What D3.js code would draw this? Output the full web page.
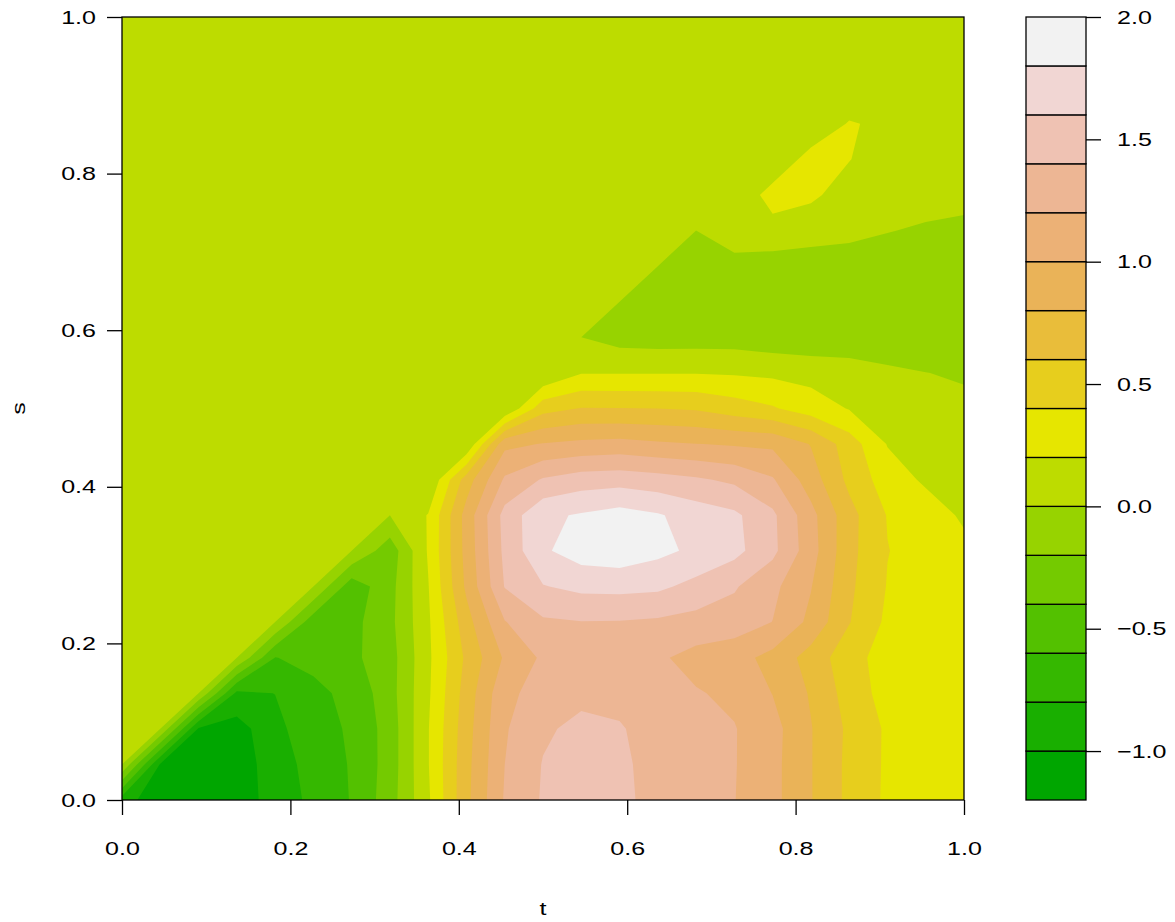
<!DOCTYPE html>
<html>
<head>
<meta charset="utf-8">
<script src="https://cdn.jsdelivr.net/npm/d3@7"></script>
<style>
  body { margin: 0; background: #ffffff; }
  text { font-family: "Liberation Sans", Arial, Helvetica, sans-serif; }
</style>
</head>
<body>
<svg id="chart" width="1175" height="922"></svg>
<script>
// Grid positions along t (columns) and s (rows)
const tValues = [0.0000, 0.0455, 0.0909, 0.1364, 0.1818, 0.2273, 0.2727, 0.3182, 0.3636, 0.4091, 0.4545, 0.5000,
                 0.5455, 0.5909, 0.6364, 0.6818, 0.7273, 0.7727, 0.8182, 0.8636, 0.9091, 0.9545, 1.0000];
const sValues = [0.0000, 0.0455, 0.0909, 0.1364, 0.1818, 0.2273, 0.2727, 0.3182, 0.3636, 0.4091, 0.4545, 0.5000,
                 0.5455, 0.5909, 0.6364, 0.6818, 0.7273, 0.7727, 0.8182, 0.8636, 0.9091, 0.9545, 1.0000];

// Surface values z(t, s): one row per s value, one entry per t value (zero where s > t)
const zValues = [
  [-0.90, -1.15, -1.18, -1.04, -0.97, -0.73, -0.59, -0.29, 0.17, 0.75, 1.22, 1.42, 1.52, 1.50, 1.26, 1.23, 1.205, 1.06, 0.81, 0.55, 0.365, 0.32, 0.30],
  [0, -1.02, -1.18, -1.06, -0.945, -0.69, -0.588, -0.31, 0.19, 0.74, 1.20, 1.41, 1.50, 1.47, 1.27, 1.23, 1.21, 1.06, 0.81, 0.55, 0.37, 0.32, 0.30],
  [0, 0, -1.02, -1.08, -0.865, -0.655, -0.582, -0.31, 0.19, 0.72, 1.18, 1.37, 1.45, 1.42, 1.30, 1.25, 1.21, 1.07, 0.81, 0.56, 0.37, 0.32, 0.30],
  [0, 0, 0, -0.85, -0.797, -0.649, -0.547, -0.28, 0.17, 0.69, 1.15, 1.28, 1.35, 1.33, 1.27, 1.215, 1.16, 0.995, 0.78, 0.515, 0.32, 0.30, 0.30],
  [0, 0, 0, 0, -0.605, -0.547, -0.442, -0.286, 0.16, 0.64, 1.027, 1.233, 1.30, 1.29, 1.23, 1.133, 1.07, 0.94, 0.718, 0.48, 0.31, 0.30, 0.29],
  [0, 0, 0, 0, 0, -0.52, -0.46, -0.255, 0.17, 0.72, 1.19, 1.37, 1.395, 1.39, 1.37, 1.33, 1.31, 1.197, 0.95, 0.61, 0.36, 0.31, 0.28],
  [0, 0, 0, 0, 0, 0, -0.52, -0.27, 0.19, 0.84, 1.41, 1.59, 1.65, 1.66, 1.64, 1.54, 1.42, 1.25, 1.01, 0.64, 0.39, 0.32, 0.27],
  [0, 0, 0, 0, 0, 0, 0, -0.32, 0.22, 0.87, 1.45, 1.77, 1.90, 1.93, 1.85, 1.76, 1.66, 1.45, 1.085, 0.66, 0.405, 0.33, 0.25],
  [0, 0, 0, 0, 0, 0, 0, 0, 0.21, 0.88, 1.47, 1.76, 1.82, 1.88, 1.82, 1.71, 1.64, 1.44, 1.065, 0.67, 0.39, 0.30, 0.17],
  [0, 0, 0, 0, 0, 0, 0, 0, 0, 0.70, 1.23, 1.42, 1.50, 1.52, 1.48, 1.43, 1.36, 1.22, 0.90, 0.55, 0.30, 0.17, 0.12],
  [0, 0, 0, 0, 0, 0, 0, 0, 0, 0, 0.95, 1.01, 1.05, 1.07, 1.03, 1.005, 0.98, 0.96, 0.79, 0.50, 0.19, 0.10, 0.05],
  [0, 0, 0, 0, 0, 0, 0, 0, 0, 0, 0, 0.53, 0.61, 0.605, 0.60, 0.58, 0.50, 0.42, 0.30, 0.19, 0.10, 0.05, 0.03],
  [0, 0, 0, 0, 0, 0, 0, 0, 0, 0, 0, 0, 0.19, 0.19, 0.19, 0.19, 0.18, 0.16, 0.13, 0.08, 0.04, 0.002, -0.015],
  [0, 0, 0, 0, 0, 0, 0, 0, 0, 0, 0, 0, 0, -0.08, -0.094, -0.09, -0.09, -0.126, -0.144, -0.11, -0.14, -0.12, -0.10],
  [0, 0, 0, 0, 0, 0, 0, 0, 0, 0, 0, 0, 0, 0, -0.10, -0.12, -0.13, -0.14, -0.15, -0.15, -0.15, -0.15, -0.14],
  [0, 0, 0, 0, 0, 0, 0, 0, 0, 0, 0, 0, 0, 0, 0, -0.08, -0.06, -0.08, -0.117, -0.12, -0.13, -0.13, -0.12],
  [0, 0, 0, 0, 0, 0, 0, 0, 0, 0, 0, 0, 0, 0, 0, 0, 0.10, 0.11, 0.10, 0.065, 0.01, -0.03, -0.05],
  [0, 0, 0, 0, 0, 0, 0, 0, 0, 0, 0, 0, 0, 0, 0, 0, 0, 0.30, 0.23, 0.127, 0.10, 0.095, 0.064],
  [0, 0, 0, 0, 0, 0, 0, 0, 0, 0, 0, 0, 0, 0, 0, 0, 0, 0, 0.30, 0.205, 0.12, 0.10, 0.08],
  [0, 0, 0, 0, 0, 0, 0, 0, 0, 0, 0, 0, 0, 0, 0, 0, 0, 0, 0, 0.22, 0.15, 0.10, 0.08],
  [0, 0, 0, 0, 0, 0, 0, 0, 0, 0, 0, 0, 0, 0, 0, 0, 0, 0, 0, 0, 0.08, 0.08, 0.08],
  [0, 0, 0, 0, 0, 0, 0, 0, 0, 0, 0, 0, 0, 0, 0, 0, 0, 0, 0, 0, 0, 0.08, 0.08],
  [0, 0, 0, 0, 0, 0, 0, 0, 0, 0, 0, 0, 0, 0, 0, 0, 0, 0, 0, 0, 0, 0, 0.06]
];

// Contour levels and axis ticks
const levels = [-1.2, -1.0, -0.8, -0.6, -0.4, -0.2, 0.0, 0.2, 0.4, 0.6, 0.8, 1.0, 1.2, 1.4, 1.6, 1.8, 2.0];
const tTicks = [0.0, 0.2, 0.4, 0.6, 0.8, 1.0];
const sTicks = [0.0, 0.2, 0.4, 0.6, 0.8, 1.0];
const legendTicks = [-1.0, -0.5, 0.0, 0.5, 1.0, 1.5, 2.0];

// Terrain palette (hue/saturation/value ramps from green through yellow to near white)
function hsv(h, s, v) {
  const h6 = h * 6;
  const i = Math.floor(h6 + 1e-9) % 6;
  const f = h6 - Math.floor(h6 + 1e-9);
  const p = v * (1 - s), q = v * (1 - f * s), t = v * (1 - (1 - f) * s);
  const rgb = [[v, t, p], [q, v, p], [p, v, t], [p, q, v], [t, p, v], [v, p, q]][i];
  return d3.rgb(Math.round(rgb[0] * 255), Math.round(rgb[1] * 255), Math.round(rgb[2] * 255)).formatHex();
}
function terrainColors(n) {
  const k = Math.floor(n / 2);
  const H = [4 / 12, 2 / 12, 0], S = [1, 1, 0], V = [0.65, 0.9, 0.95];
  const seq = (a, b, len, i) => len === 1 ? a : a + (b - a) * i / (len - 1);
  const out = [];
  for (let i = 0; i < k; i++) out.push(hsv(seq(H[0], H[1], k, i), seq(S[0], S[1], k, i), seq(V[0], V[1], k, i)));
  const len = n - k + 1;
  for (let i = 1; i < len; i++) out.push(hsv(seq(H[1], H[2], len, i), seq(S[1], S[2], len, i), seq(V[1], V[2], len, i)));
  return out;
}
const bandColors = terrainColors(levels.length - 1);

const svg = d3.select("#chart");
const plot = { left: 122, right: 964, top: 17, bottom: 800 };
const FONT = '"Liberation Sans", Arial, Helvetica, sans-serif';
const FONT_SIZE = "19px";
const WIDEN = 1.32;

const x = d3.scaleLinear().domain([0, 1]).range([plot.left, plot.right]);
const y = d3.scaleLinear().domain([0, 1]).range([plot.bottom, plot.top]);

// Contour grid coordinates: value (i, j) sits at (i + 0.5, j + 0.5)
const nT = tValues.length, nS = sValues.length;
const gx = d3.scaleLinear().domain([0.5, nT - 0.5]).range([x(tValues[0]), x(tValues[nT - 1])]);
const gy = d3.scaleLinear().domain([0.5, nS - 0.5]).range([y(sValues[0]), y(sValues[nS - 1])]);
const projection = d3.geoTransform({
  point(px, py) { this.stream.point(gx(px), gy(py)); }
});
const path = d3.geoPath(projection);

const flat = [];
for (let j = 0; j < nS; j++) for (let i = 0; i < nT; i++) flat.push(zValues[j][i]);
const bands = d3.contours().size([nT, nS]).thresholds(levels.slice(0, -1))(flat);

svg.append("clipPath").attr("id", "plot-clip")
  .append("rect")
  .attr("x", plot.left).attr("y", plot.top)
  .attr("width", plot.right - plot.left).attr("height", plot.bottom - plot.top);

svg.append("g").attr("clip-path", "url(#plot-clip)")
  .selectAll("path")
  .data(bands)
  .join("path")
  .attr("d", path)
  .attr("fill", (d, i) => bandColors[i])
  .attr("stroke", "none");

// Plot frame
svg.append("rect")
  .attr("x", plot.left).attr("y", plot.top)
  .attr("width", plot.right - plot.left).attr("height", plot.bottom - plot.top)
  .attr("fill", "none").attr("stroke", "#000").attr("stroke-width", 1.3);

const fmt = d => d3.format(".1f")(d).replace("-", "\u2212");

// Text is drawn slightly stretched horizontally (wide glyphs)
function widen(sel) {
  sel.each(function () {
    const t = d3.select(this);
    const tx = +t.attr("x") || 0, ty = +t.attr("y") || 0;
    t.attr("x", 0).attr("y", 0)
      .attr("transform", `translate(${tx},${ty}) scale(${WIDEN},1)`);
  });
}
function styleAxis(g) {
  g.select(".domain").remove();
  g.selectAll(".tick line").attr("stroke", "#000").attr("stroke-width", 1.3);
  g.selectAll(".tick text").attr("fill", "#000")
    .style("font-size", FONT_SIZE).style("font-family", FONT)
    .call(widen);
}

svg.append("g")
  .attr("transform", `translate(0,${plot.bottom})`)
  .call(d3.axisBottom(x).tickValues(tTicks).tickSize(15).tickPadding(27).tickFormat(fmt))
  .call(styleAxis);
svg.append("g")
  .attr("transform", `translate(${plot.left},0)`)
  .call(d3.axisLeft(y).tickValues(sTicks).tickSize(15).tickPadding(11).tickFormat(fmt))
  .call(styleAxis);

// Axis titles
svg.append("text")
  .attr("transform", `translate(${(plot.left + plot.right) / 2},915) scale(${WIDEN},1)`)
  .attr("text-anchor", "middle").style("font-size", FONT_SIZE).text("t");
svg.append("text")
  .attr("transform", `translate(25,${(plot.top + plot.bottom) / 2}) rotate(-90) scale(${WIDEN},1)`)
  .attr("text-anchor", "middle").style("font-size", FONT_SIZE).text("s");

// Colour key
const key = { left: 1026, right: 1086 };
const z = d3.scaleLinear().domain([levels[0], levels[levels.length - 1]]).range([plot.bottom, plot.top]);
svg.append("g").selectAll("rect")
  .data(d3.range(levels.length - 1))
  .join("rect")
  .attr("x", key.left)
  .attr("y", k => z(levels[k + 1]))
  .attr("width", key.right - key.left)
  .attr("height", k => z(levels[k]) - z(levels[k + 1]))
  .attr("fill", k => bandColors[k])
  .attr("stroke", "#000").attr("stroke-width", 1.3);

svg.append("g")
  .attr("transform", `translate(${key.right},0)`)
  .call(d3.axisRight(z).tickValues(legendTicks).tickSize(15).tickPadding(16).tickFormat(fmt))
  .call(styleAxis);
</script>
</body>
</html>
